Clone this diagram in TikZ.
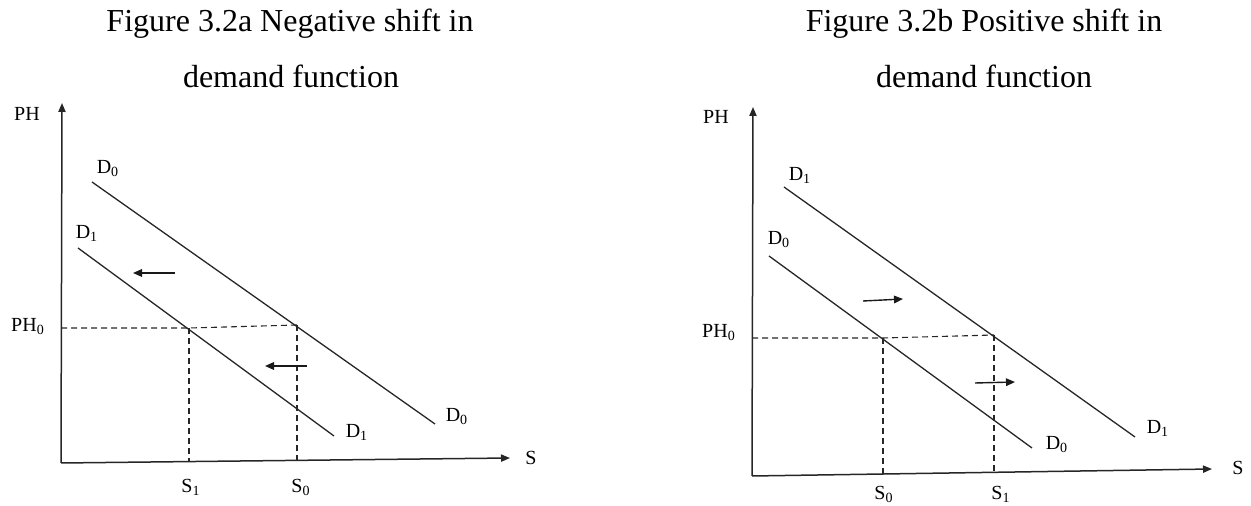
\documentclass[tikz,border=0pt]{standalone}
\usepackage{fontspec}
\setmainfont{Liberation Serif}
\usetikzlibrary{arrows.meta,positioning}

\begin{document}
\begin{tikzpicture}[x=0.5pt,y=-0.5pt,
    dmaxis/.style={-{Triangle[length=4.5pt,width=3.6pt]},draw=black!85,line width=0.75pt},
    dmcurve/.style={draw=black!85,line width=0.65pt},
    dmguide/.style={draw=black!85,dash pattern=on 3pt off 2pt,line width=0.55pt},
    dmshift/.style={-{Triangle[length=4.5pt,width=3.8pt]},draw=black!90,line width=0.7pt},
    dmlabel/.style={font=\fontsize{10}{12}\selectfont,inner sep=0pt},
    dmtitle/.style={font=\fontsize{16}{19}\selectfont,inner sep=0pt,anchor=base}
]
\useasboundingbox (0,0) rectangle (1251,506);

% Figure 3.2a
\node[dmtitle] (titleA) at (290,32) {Figure 3.2a Negative shift in};
\node[dmtitle] (titleAb) at (291,88) {demand function};
\coordinate (oA) at (61,463);
\coordinate (yA) at (62,103);
\coordinate (xA) at (510,458);
\draw[dmaxis] (oA)--(yA);
\draw[dmaxis] (oA)--(xA);
\node[dmlabel] (phA) at (27,114) {PH};
\node[dmlabel] (sA) at (531,458) {S};
\coordinate (dA0a) at (92,182);
\coordinate (dA0b) at (435,424);
\coordinate (dA1a) at (78,248);
\coordinate (dA1b) at (334,436);
\draw[dmcurve] (dA0a)--(dA0b);
\draw[dmcurve] (dA1a)--(dA1b);
\node[dmlabel] (dA0top) at (108,169) {D\textsubscript{0}};
\node[dmlabel] (dA0end) at (457,417) {D\textsubscript{0}};
\node[dmlabel] (dA1top) at (87,233) {D\textsubscript{1}};
\node[dmlabel] (dA1end) at (357,432) {D\textsubscript{1}};
\coordinate (phA0pt) at (61,328);
\coordinate (eqA1) at (189,328);
\coordinate (eqA0) at (297,325);
\coordinate (sA1pt) at (189,462);
\coordinate (sA0pt) at (297,460);
\draw[dmguide] (phA0pt)--(eqA1)--(eqA0);
\draw[dmguide] (eqA1)--(sA1pt);
\draw[dmguide] (eqA0)--(sA0pt);
\node[dmlabel] (phA0) at (28,327) {PH\textsubscript{0}};
\node[dmlabel] (sA1) at (191,487) {S\textsubscript{1}};
\node[dmlabel] (sA0) at (301,487) {S\textsubscript{0}};
\coordinate (shA1a) at (175,273);
\coordinate (shA1b) at (133,273);
\coordinate (shA2a) at (307,366);
\coordinate (shA2b) at (265,366);
\draw[dmshift] (shA1a)--(shA1b);
\draw[dmshift] (shA2a)--(shA2b);

% Figure 3.2b
\node[dmtitle] (titleB) at (984,32) {Figure 3.2b Positive shift in};
\node[dmtitle] (titleBb) at (984,88) {demand function};
\coordinate (oB) at (752,476);
\coordinate (yB) at (753,107);
\coordinate (xB) at (1212,469);
\draw[dmaxis] (oB)--(yB);
\draw[dmaxis] (oB)--(xB);
\node[dmlabel] (phB) at (716,117) {PH};
\node[dmlabel] (sB) at (1238,468) {S};
\coordinate (dB1a) at (784,187);
\coordinate (dB1b) at (1135,437);
\coordinate (dB0a) at (769,256);
\coordinate (dB0b) at (1032,448);
\draw[dmcurve] (dB1a)--(dB1b);
\draw[dmcurve] (dB0a)--(dB0b);
\node[dmlabel] (dB1top) at (800,175) {D\textsubscript{1}};
\node[dmlabel] (dB1end) at (1158,428) {D\textsubscript{1}};
\node[dmlabel] (dB0top) at (779,240) {D\textsubscript{0}};
\node[dmlabel] (dB0end) at (1057,445) {D\textsubscript{0}};
\coordinate (phB0pt) at (752,338);
\coordinate (eqB0) at (883,338);
\coordinate (eqB1) at (994,335);
\coordinate (sB0pt) at (883,475);
\coordinate (sB1pt) at (994,473);
\draw[dmguide] (phB0pt)--(eqB0)--(eqB1);
\draw[dmguide] (eqB0)--(sB0pt);
\draw[dmguide] (eqB1)--(sB1pt);
\node[dmlabel] (phB0) at (719,333) {PH\textsubscript{0}};
\node[dmlabel] (sB0) at (884,494) {S\textsubscript{0}};
\node[dmlabel] (sB1) at (1001,494) {S\textsubscript{1}};
\coordinate (shB1a) at (863,301);
\coordinate (shB1b) at (903,299);
\coordinate (shB2a) at (975,383);
\coordinate (shB2b) at (1015,382);
\draw[dmshift] (shB1a)--(shB1b);
\draw[dmshift] (shB2a)--(shB2b);
\end{tikzpicture}
\end{document}
